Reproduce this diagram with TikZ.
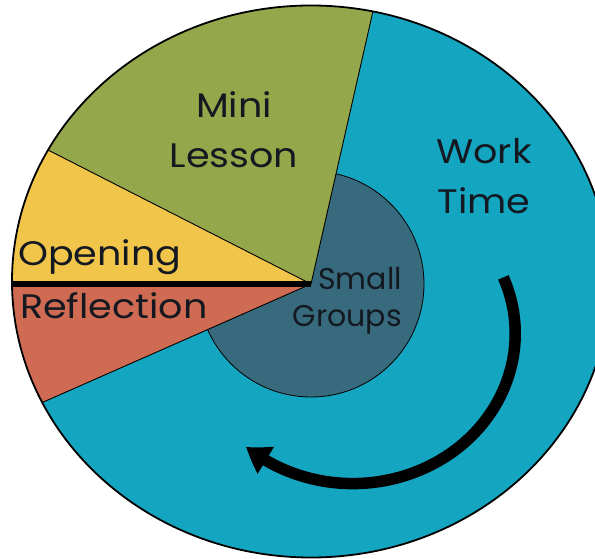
\documentclass[tikz,border=0pt]{standalone}
\usepackage{fontspec}
\setmainfont{Poppins}
\usetikzlibrary{arrows.meta, bending, calc}

\definecolor{worktime}{RGB}{20,166,193}
\definecolor{minilesson}{RGB}{148,167,75}
\definecolor{opening}{RGB}{241,197,74}
\definecolor{reflection}{RGB}{208,107,83}
\definecolor{smallgroups}{RGB}{55,106,124}
\definecolor{parttext}{RGB}{20,24,32}

\begin{document}
\begin{tikzpicture}[x=1pt, y=1pt]
	\tikzstyle{parttext} = [font=\fontsize{34}{50}\selectfont, text=parttext, inner sep=0pt, xscale=1.12, transform shape]
	\tikzstyle{divider} = [line width=.9pt]
	\useasboundingbox (0,0) rectangle (595,559);
	\clip (0,0) rectangle (595,559);
	
	\coordinate (hub) at (311,275);
	\coordinate (rim) at (311,277.5);
	
	\fill[worktime] (rim) ellipse [x radius=299, y radius=276];
	\filldraw[fill=smallgroups, draw=black, line width=.8pt] (hub) circle [radius=113];
	
	\begin{scope}
		\clip (rim) ellipse [x radius=299, y radius=276];
		\fill[minilesson] (hub) -- +(77.2:500) -- +(115:500) -- +(153:500) -- cycle;
		\fill[opening] (hub) -- +(153:500) -- +(180:500) -- cycle;
		\fill[reflection] (hub) -- +(180:500) -- +(203.8:500) -- cycle;
		\draw[divider] (hub) -- +(77.2:500);
		\draw[divider] (hub) -- +(153:500);
		\draw[divider] (hub) -- +(203.8:500);
		\draw[line width=6.5pt] (hub) -- +(180:500);
	\end{scope}
	\draw[line width=1.8pt] (rim) ellipse [x radius=299, y radius=276];
	
	% turning arrow round the small groups
	\coordinate (flowc) at (352.7,225.4);
	\coordinate (flowstart) at ($(flowc)+(22:162.5 and 150)$);
	\draw[line width=11.5pt, -{Triangle[length=24pt, width=30pt, bend]}] (flowstart) arc [start angle=22, end angle=-131, x radius=162.5, y radius=150];
	
	\node[parttext, align=center, anchor=base] (mini) at (234,391) {Mini\\Lesson};
	\node[parttext, align=center, anchor=base] (work) at (484,345) {Work\\Time};
	\node[parttext, anchor=base west] (open) at (18,293) {Opening};
	\node[parttext, anchor=base west] (refl) at (20,240) {Reflection};
	\node[parttext, font=\fontsize{30}{37}\selectfont, xscale=1/1.12, align=right, anchor=base east] (small) at (402,232) {Small\\Groups};
\end{tikzpicture}
\end{document}
